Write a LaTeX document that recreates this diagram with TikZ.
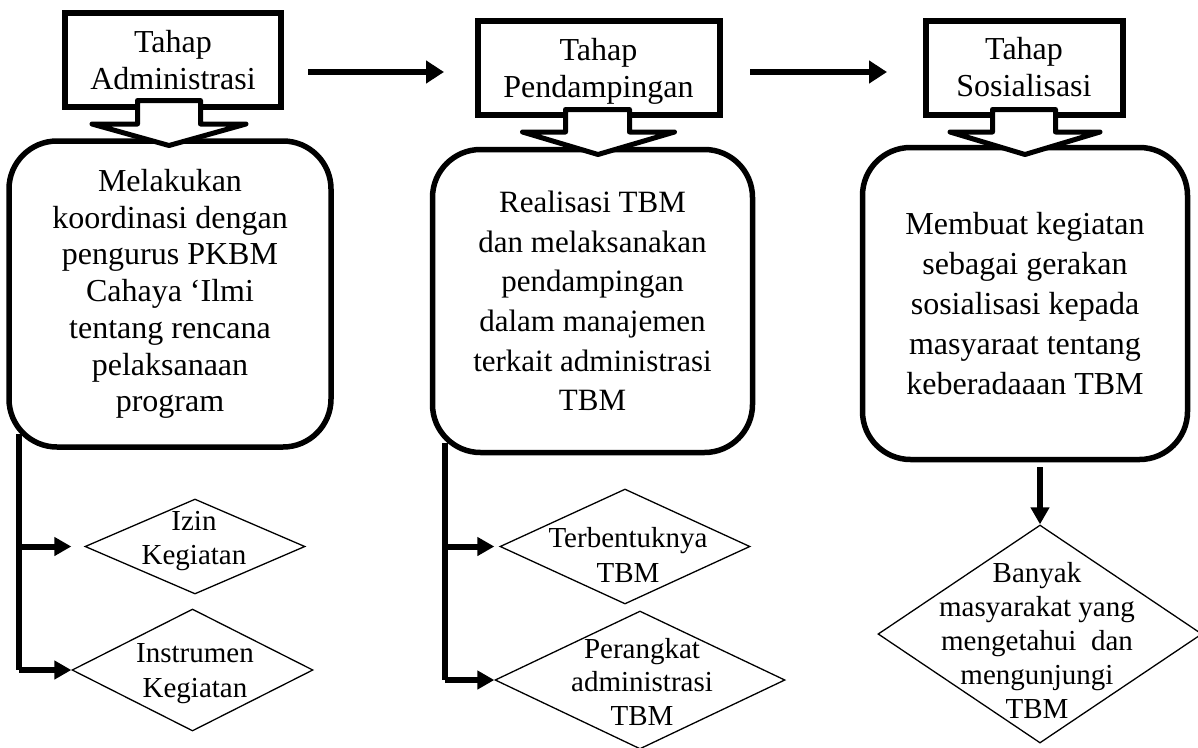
\documentclass[tikz,border=0pt]{standalone}
\usepackage{fontspec}
\setmainfont{Liberation Serif}
\usetikzlibrary{arrows.meta,shapes.geometric,calc}
\begin{document}
\begin{tikzpicture}[x=1pt,y=-1pt,
  topbox/.style={draw, line width=6pt, inner sep=0pt, align=center, minimum height=94pt, font=\fontsize{32}{37}\selectfont},
  rbox/.style={draw, line width=5.5pt, rounded corners=48pt, inner sep=0pt, align=center},
  dia/.style={draw, diamond, line width=1.3pt, inner sep=0pt},
  dtext/.style={align=center, inner sep=0pt, font=\fontsize{29}{34.5}\selectfont},
  bline/.style={line width=6pt},
  harrow/.style={line width=6pt, -{Triangle[length=18pt,width=22pt]}},
  barrow/.style={line width=6pt, -{Triangle[length=17pt,width=18pt]}},
  blockarrow/.style={draw, fill=white, line width=5pt, line join=round}
]
\useasboundingbox (0,0) rectangle (1198,747);
\fill[white] (0,0) rectangle (1198,747);

% top boxes
\node[topbox, minimum width=216pt] (b1) at (173,60) {Tahap\\Administrasi};
\node[topbox, minimum width=242pt] (b2) at (598.5,67.5) {Tahap\\\smash{Pendampingan}};
\node[topbox, minimum width=197pt] (b3) at (1024,67.5) {Tahap\\Sosialisasi};

% rounded boxes
\node[rbox, minimum width=322pt, minimum height=306pt, font=\fontsize{32}{36.7}\selectfont] (r1) at (170,294)
  {Melakukan\\koordinasi dengan\\pengurus PKBM\\Cahaya ‘Ilmi\\tentang rencana\\pelaksanaan\\program};
\node[rbox, minimum width=320pt, minimum height=303pt, font=\fontsize{31}{39.6}\selectfont] (r2) at (592.5,301)
  {Realisasi TBM\\dan melaksanakan\\pendampingan\\dalam manajemen\\terkait administrasi\\TBM};
\node[rbox, minimum width=325pt, minimum height=312pt, font=\fontsize{32}{40}\selectfont] (r3) at (1025,303.5)
  {Membuat kegiatan\\sebagai gerakan\\sosialisasi kepada\\masyaraat tentang\\keberadaaan TBM};

% block arrows
\path[blockarrow] (137.5,100.5) -- (137.5,124) -- (92,124) -- (169,145.5) -- (246,124) -- (200.5,124) -- (200.5,100.5) -- cycle;
\path[blockarrow] (565.5,109.5) -- (565.5,132) -- (522.5,132) -- (598,154.5) -- (674.5,132) -- (629.5,132) -- (629.5,109.5) -- cycle;
\path[blockarrow] (992.5,109.5) -- (992.5,132) -- (950,132) -- (1025,154.5) -- (1100,132) -- (1055.5,132) -- (1055.5,109.5) -- cycle;

% horizontal arrows
\draw[harrow, shorten <=24pt, shorten >=30.5pt] (b1.east |- 0,72) -- (b2.west |- 0,72);
\draw[harrow, shorten <=27.5pt, shorten >=35.5pt] (b2.east |- 0,72) -- (b3.west |- 0,72);

% diamonds
\node[dia, minimum width=220pt, minimum height=95pt] (d1) at (195,546.5) {};
\node[dia, minimum width=241pt, minimum height=122pt] (d2) at (192.5,670) {};
\node[dia, minimum width=250pt, minimum height=115pt] (d3) at (625,546.5) {};
\node[dia, minimum width=290pt, minimum height=138pt] (d4) at (640,680) {};
\node[dia, minimum width=324pt, minimum height=218pt] (d5) at (1040,634) {};

\node[dtext] (d1t) at (194,541) {Izin\\Kegiatan};
\node[dtext] (d2t) at (195,673.5) {Instrumen\\Kegiatan};
\node[dtext] (d3t) at (628,555) {Terbentuknya\\TBM};
\node[dtext, font=\fontsize{29}{33.5}\selectfont] (d4t) at (642,681.5) {Perangkat\\administrasi\\TBM};
\node[dtext, font=\fontsize{29}{34}\selectfont] (d5t) at (1037,640) {Banyak\\masyarakat yang\\mengetahui\ \ dan\\mengunjungi\\TBM};

% branch connectors
\coordinate (t1) at ([xshift=12.5pt,yshift=16pt]r1.south west);
\coordinate (t2) at ([xshift=15.5pt,yshift=12.5pt]r2.south west);
\draw[bline] (t1) -- (t1 |- d2.west);
\draw[barrow, shorten >=13pt] (t1 |- d1.west) -- (d1.west);
\draw[barrow] (t1 |- d2.west) -- (d2.west);
\draw[bline] (t2) -- (t2 |- d4.west);
\draw[barrow, shorten >=5pt] (t2 |- d3.west) -- (d3.west);
\draw[barrow] (t2 |- d4.west) -- (d4.west);
\draw[barrow, shorten <=5pt] (r3.south -| d5.north) -- (d5.north);
\end{tikzpicture}
\end{document}
